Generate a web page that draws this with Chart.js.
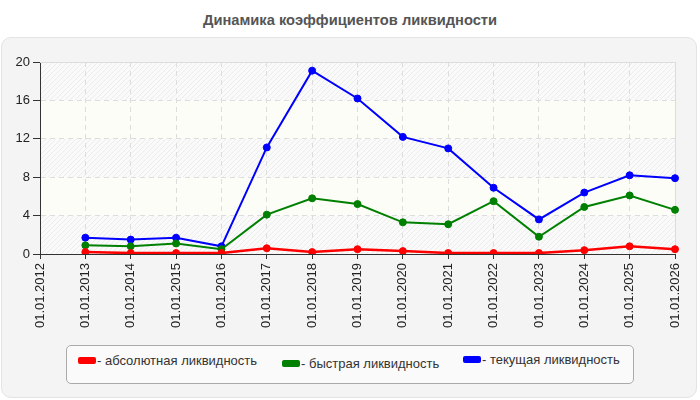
<!DOCTYPE html>
<html>
<head>
<meta charset="utf-8">
<script src="https://cdn.jsdelivr.net/npm/chart.js@4.4.1/dist/chart.umd.min.js"></script>
<style>
    body {margin: 0; background: #fff; font-family: Arial, "Liberation Sans", sans-serif;}
    #wrap {position: relative; width: 700px; height: 400px; overflow: hidden;}
    #panel {position: absolute; left: 1px; top: 37px; width: 696px; height: 361px; background: #f4f4f4;
        border: 1px solid #e3e3e3; border-radius: 10px; box-sizing: border-box;}
    #title {position: absolute; left: 0; top: 12px; width: 700px; text-align: center; font-weight: bold;
        font-size: 14.7px; color: #555;}
    canvas {position: absolute; left: 0; top: 0;}
    #legend {position: absolute; left: 66px; top: 345px; width: 568px; height: 39px; box-sizing: border-box;
        border: 1px solid #aaa; border-radius: 5px; background: #fafafa;}
    .item {position: absolute; font-size: 13px; color: #333; white-space: nowrap; line-height: 15px;}
    .sw {display: inline-block; width: 18px; height: 7px; border-radius: 2px; vertical-align: 1px; margin-right: 1px;}
</style>
</head>
<body>
<div id="wrap">
    <div id="panel"></div>
    <div id="title">Динамика коэффициентов ликвидности</div>
    <canvas id="chart" width="700" height="400"></canvas>
    <div id="legend"></div>
</div>
<script>
    const years = ['01.01.2012', '01.01.2013', '01.01.2014', '01.01.2015', '01.01.2016', '01.01.2017', '01.01.2018',
        '01.01.2019', '01.01.2020', '01.01.2021', '01.01.2022', '01.01.2023', '01.01.2024', '01.01.2025', '01.01.2026'];
    const absoluteLiq = [null, 0.2, 0.1, 0.1, 0.1, 0.6, 0.2, 0.5, 0.3, 0.1, 0.1, 0.1, 0.4, 0.8, 0.5];
    const quickLiq = [null, 0.9, 0.8, 1.1, 0.5, 4.1, 5.8, 5.2, 3.3, 3.1, 5.5, 1.8, 4.9, 6.1, 4.6];
    const currentLiq = [null, 1.7, 1.5, 1.7, 0.8, 11.1, 19.1, 16.2, 12.2, 11.0, 6.9, 3.6, 6.4, 8.2, 7.9];
    const yTicks = [0, 4, 8, 12, 16, 20];
    const seriesNames = ['- абсолютная ликвидность', '- быстрая ликвидность', '- текущая ликвидность'];
    const seriesColors = ['#ff0000', '#008000', '#0000ff'];

    // hatch tile for the striped bands
    const tile = document.createElement('canvas');
    tile.width = tile.height = 5;
    const tctx = tile.getContext('2d');
    tctx.fillStyle = '#fafafa';
    tctx.fillRect(0, 0, 5, 5);
    tctx.fillStyle = '#ececec';
    for (let i = 0; i < 5; i++) tctx.fillRect(i, 4 - i, 1, 1);
    const hatch = tctx.createPattern(tile, 'repeat');

    const bandsPlugin = {
        id: 'bands',
        beforeDraw(chart) {
            const {ctx, chartArea: a, scales: {y}} = chart;
            ctx.save();
            for (let i = 0; i < yTicks.length - 1; i++) {
                const top = y.getPixelForValue(yTicks[i + 1]);
                const bottom = y.getPixelForValue(yTicks[i]);
                ctx.fillStyle = i % 2 === 0 ? hatch : '#fdfdf8';
                ctx.fillRect(a.left, top, a.right - a.left, bottom - top);
            }
            ctx.restore();
        },
        beforeDatasetsDraw(chart) {
            const {ctx, chartArea: a} = chart;
            ctx.save();
            ctx.strokeStyle = '#dcdcdc';
            ctx.lineWidth = 1;
            ctx.beginPath();
            ctx.moveTo(a.left, a.top + 0.5);
            ctx.lineTo(a.right + 0.5, a.top + 0.5);
            ctx.lineTo(a.right + 0.5, a.bottom);
            ctx.stroke();
            ctx.restore();
        }
    };

    const makeSet = (label, data, color, width) => ({
        label: label,
        data: data,
        borderColor: color,
        backgroundColor: color,
        borderWidth: width,
        pointRadius: 3.5,
        pointBorderWidth: 1,
        pointHoverRadius: 3.5,
        tension: 0,
        fill: false
    });

    new Chart(document.getElementById('chart'), {
        type: 'line',
        data: {
            labels: years,
            datasets: [
                makeSet(seriesNames[0], absoluteLiq, seriesColors[0], 2.5),
                makeSet(seriesNames[1], quickLiq, seriesColors[1], 2),
                makeSet(seriesNames[2], currentLiq, seriesColors[2], 2),
            ]
        },
        options: {
            responsive: false,
            animation: false,
            events: [],
            layout: {padding: {left: 0, top: 62, right: 25, bottom: 66}},
            plugins: {legend: {display: false}, tooltip: {enabled: false}},
            scales: {
                x: {
                    offset: false,
                    grid: {color: '#dddddd', tickColor: '#333', tickLength: 5, tickBorderDash: []},
                    border: {color: '#333', dash: [5, 4]},
                    ticks: {
                        minRotation: 90, maxRotation: 90, autoSkip: false, padding: 4,
                        color: '#222', font: {size: 13, family: 'Arial, "Liberation Sans", sans-serif'}
                    },
                    afterFit(s) { s.height = 80; }
                },
                y: {
                    min: 0,
                    max: 20,
                    afterBuildTicks(s) { s.ticks = yTicks.map(v => ({value: v})); },
                    grid: {color: '#dddddd', tickColor: '#333', tickLength: 7, tickBorderDash: []},
                    border: {color: '#333', dash: [5, 4]},
                    ticks: {
                        padding: 3, color: '#222',
                        font: {size: 13, family: 'Arial, "Liberation Sans", sans-serif'}
                    },
                    afterFit(s) { s.width = 40; }
                }
            }
        },
        plugins: [bandsPlugin]
    });

    // html legend, laid out like the original box
    const legendPos = [[11, 11], [215, 14], [396, 10]];
    const legend = document.getElementById('legend');
    seriesNames.forEach((name, i) => {
        const el = document.createElement('div');
        el.className = 'item';
        el.style.left = legendPos[i][0] + 'px';
        el.style.top = (legendPos[i][1] - 4) + 'px';
        el.innerHTML = '<span class="sw" style="background:' + seriesColors[i] + '"></span>' + name;
        legend.appendChild(el);
    });
</script>
</body>
</html>
